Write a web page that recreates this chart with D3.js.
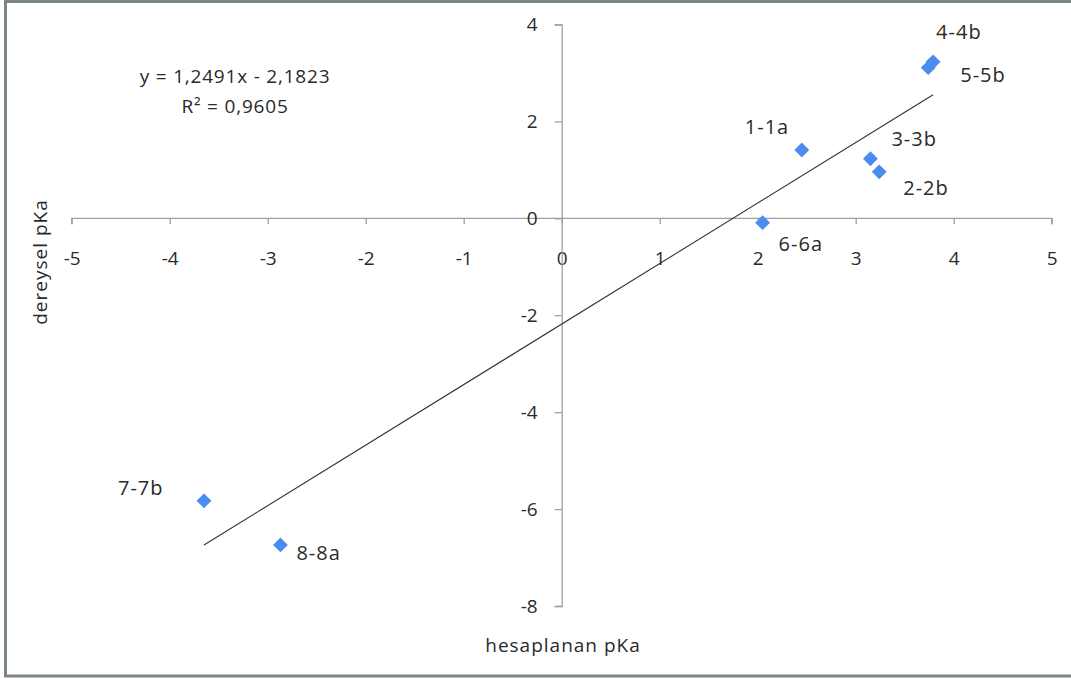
<!DOCTYPE html>
<html>
<head>
<meta charset="utf-8">
<script src="https://cdn.jsdelivr.net/npm/d3@7"></script>
<style>
  body { margin: 0; background: #fff; }
  svg text { font-family: "Open Sans", "DejaVu Sans", sans-serif; fill: #2a2a2a; }
</style>
</head>
<body>
<div id="chart"></div>
<script>
// data
const names = ["1-1a", "2-2b", "3-3b", "4-4b", "5-5b", "6-6a", "7-7b", "8-8a"];
const hesaplanan = [2.45, 3.24, 3.15, 3.79, 3.74, 2.05, -3.65, -2.87];
const dereysel = [1.41, 0.96, 1.23, 3.23, 3.11, -0.09, -5.83, -6.74];
const xTicks = [-5, -4, -3, -2, -1, 0, 1, 2, 3, 4, 5];
const yTicks = [-8, -6, -4, -2, 0, 2, 4];
const slope = 1.2491;
const intercept = -2.1823;
const rSquared = "0,9605";

// label placement relative to each marker (layout only)
const labelOffsets = [[-57, -23], [24, 16], [21, -20], [3, -30], [32, 7], [16, 21], [-86, -13], [16, 8]];

const W = 1071, H = 679;
const x = d3.scaleLinear().domain([-5, 5]).range([71.7, 1051.7]);
const y = d3.scaleLinear().domain([-8, 4]).range([606, 24.5]);

const svg = d3.select("#chart").append("svg")
    .attr("width", W)
    .attr("height", H);

// frame
svg.append("path")
    .attr("d", "M1075,1.5 H5.5 V676 H1075")
    .attr("fill", "none")
    .attr("stroke", "#7b8785")
    .attr("stroke-width", 3);

const axisColor = "#9aa3a2";

// x axis through y = 0, ticks hang below
const xAxis = svg.append("g")
    .attr("transform", "translate(0," + y(0) + ")")
    .call(d3.axisBottom(x).tickValues(xTicks).tickSize(6).tickPadding(27).tickSizeOuter(0)
      .tickFormat(d => d));
xAxis.selectAll("path, line").attr("stroke", axisColor).attr("stroke-width", 1.3);
xAxis.select("path.domain").attr("d", "M" + x(-5) + ",6V0H" + x(5) + "V6");
xAxis.selectAll("text").attr("font-size", 19).style("fill", "#2a2a2a");

// y axis through x = 0, ticks point left
const yAxis = svg.append("g")
    .attr("transform", "translate(" + x(0) + ",0)")
    .call(d3.axisLeft(y).tickValues(yTicks).tickSize(7).tickPadding(17).tickSizeOuter(7)
      .tickFormat(d => d));
yAxis.selectAll("path, line").attr("stroke", axisColor).attr("stroke-width", 1.3);
yAxis.selectAll("text").attr("font-size", 19).style("fill", "#2a2a2a");

// trend line over the span of the data
const xMin = d3.min(hesaplanan), xMax = d3.max(hesaplanan);
svg.append("line")
    .attr("x1", x(xMin)).attr("y1", y(slope * xMin + intercept))
    .attr("x2", x(xMax)).attr("y2", y(slope * xMax + intercept))
    .attr("stroke", "#333")
    .attr("stroke-width", 1.1);

// markers
const diamond = d3.symbol().type(d3.symbolDiamond2).size(140);
svg.selectAll("path.pt")
    .data(names)
    .enter()
    .append("path")
    .attr("class", "pt")
    .attr("d", diamond)
    .attr("transform", (d, i) => "translate(" + x(hesaplanan[i]) + "," + y(dereysel[i]) + ")")
    .attr("fill", "#4a8cf0");

// point labels
svg.selectAll("text.lbl")
    .data(names)
    .enter()
    .append("text")
    .attr("class", "lbl")
    .attr("x", (d, i) => x(hesaplanan[i]) + labelOffsets[i][0])
    .attr("y", (d, i) => y(dereysel[i]) + labelOffsets[i][1])
    .attr("dy", "0.35em")
    .attr("font-size", 20)
    .attr("letter-spacing", 1)
    .text(d => d);

// equation
svg.append("text")
    .attr("x", 235).attr("y", 76).attr("dy", "0.35em")
    .attr("text-anchor", "middle").attr("font-size", 19)
    .attr("letter-spacing", 0.8)
    .text("y = " + String(slope).replace(".", ",") + "x - " + String(-intercept).replace(".", ","));
svg.append("text")
    .attr("x", 235).attr("y", 106).attr("dy", "0.35em")
    .attr("text-anchor", "middle").attr("font-size", 19)
    .attr("letter-spacing", 0.8)
    .text("R² = " + rSquared);

// axis titles
svg.append("text")
    .attr("x", 563).attr("y", 645).attr("dy", "0.35em")
    .attr("text-anchor", "middle").attr("font-size", 19)
    .attr("letter-spacing", 1)
    .text("hesaplanan pKa");
svg.append("text")
    .attr("transform", "translate(40,262) rotate(-90)")
    .attr("dy", "0.35em")
    .attr("text-anchor", "middle").attr("font-size", 19)
    .attr("letter-spacing", 1)
    .text("dereysel  pKa");
</script>
</body>
</html>
